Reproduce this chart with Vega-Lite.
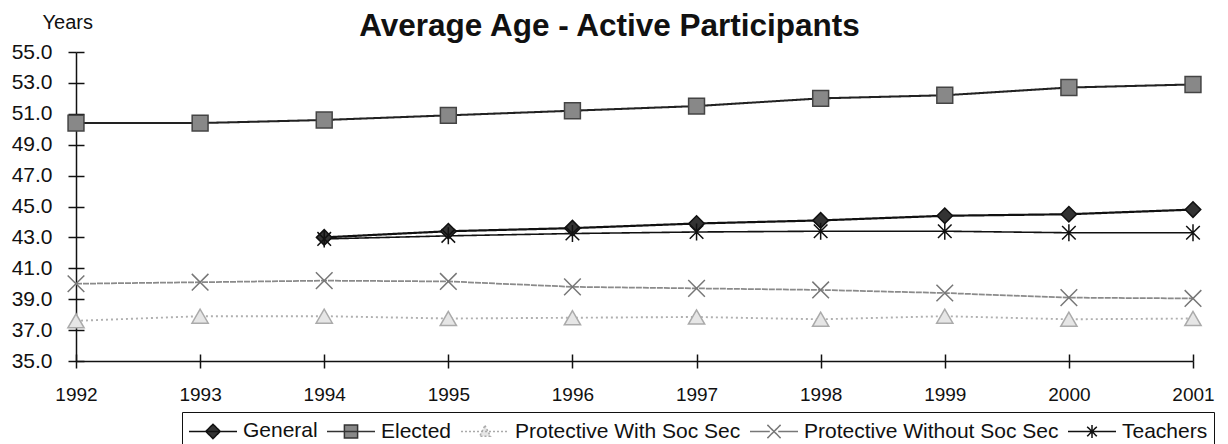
{
  "$schema": "https://vega.github.io/schema/vega-lite/v6.json",
  "width": 1117,
  "height": 309,
  "autosize": {"type": "none"},
  "padding": {"left": 76, "top": 52, "right": 35, "bottom": 83},
  "background": "white",
  "title": {
    "text": "Average Age - Active Participants",
    "font": "Liberation Sans",
    "fontSize": 31.5,
    "fontWeight": "bold",
    "color": "#111",
    "anchor": "middle",
    "dx": -25,
    "offset": -30
  },
  "config": {
    "view": {"stroke": null},
    "font": "Liberation Sans",
    "axis": {"grid": false}
  },
  "data": {
    "values": [
      {"year": "1992", "series": "Elected", "value": 50.4},
      {"year": "1993", "series": "Elected", "value": 50.4},
      {"year": "1994", "series": "Elected", "value": 50.6},
      {"year": "1995", "series": "Elected", "value": 50.9},
      {"year": "1996", "series": "Elected", "value": 51.2},
      {"year": "1997", "series": "Elected", "value": 51.5},
      {"year": "1998", "series": "Elected", "value": 52.0},
      {"year": "1999", "series": "Elected", "value": 52.2},
      {"year": "2000", "series": "Elected", "value": 52.7},
      {"year": "2001", "series": "Elected", "value": 52.9},
      {"year": "1994", "series": "General", "value": 43.0},
      {"year": "1995", "series": "General", "value": 43.4},
      {"year": "1996", "series": "General", "value": 43.6},
      {"year": "1997", "series": "General", "value": 43.9},
      {"year": "1998", "series": "General", "value": 44.1},
      {"year": "1999", "series": "General", "value": 44.4},
      {"year": "2000", "series": "General", "value": 44.5},
      {"year": "2001", "series": "General", "value": 44.8},
      {"year": "1994", "series": "Teachers", "value": 42.9},
      {"year": "1995", "series": "Teachers", "value": 43.1},
      {"year": "1996", "series": "Teachers", "value": 43.25},
      {"year": "1997", "series": "Teachers", "value": 43.35},
      {"year": "1998", "series": "Teachers", "value": 43.4},
      {"year": "1999", "series": "Teachers", "value": 43.4},
      {"year": "2000", "series": "Teachers", "value": 43.3},
      {"year": "2001", "series": "Teachers", "value": 43.3},
      {"year": "1992", "series": "Protective Without Soc Sec", "value": 40.0},
      {"year": "1993", "series": "Protective Without Soc Sec", "value": 40.1},
      {"year": "1994", "series": "Protective Without Soc Sec", "value": 40.2},
      {"year": "1995", "series": "Protective Without Soc Sec", "value": 40.15},
      {"year": "1996", "series": "Protective Without Soc Sec", "value": 39.8},
      {"year": "1997", "series": "Protective Without Soc Sec", "value": 39.7},
      {"year": "1998", "series": "Protective Without Soc Sec", "value": 39.6},
      {"year": "1999", "series": "Protective Without Soc Sec", "value": 39.4},
      {"year": "2000", "series": "Protective Without Soc Sec", "value": 39.1},
      {"year": "2001", "series": "Protective Without Soc Sec", "value": 39.05},
      {"year": "1992", "series": "Protective With Soc Sec", "value": 37.6},
      {"year": "1993", "series": "Protective With Soc Sec", "value": 37.9},
      {"year": "1994", "series": "Protective With Soc Sec", "value": 37.9},
      {"year": "1995", "series": "Protective With Soc Sec", "value": 37.75},
      {"year": "1996", "series": "Protective With Soc Sec", "value": 37.8},
      {"year": "1997", "series": "Protective With Soc Sec", "value": 37.85},
      {"year": "1998", "series": "Protective With Soc Sec", "value": 37.7},
      {"year": "1999", "series": "Protective With Soc Sec", "value": 37.9},
      {"year": "2000", "series": "Protective With Soc Sec", "value": 37.7},
      {"year": "2001", "series": "Protective With Soc Sec", "value": 37.75}
    ]
  },
  "layer": [
    {
      "mark": {"type": "line"},
      "encoding": {
        "x": {
          "field": "year", "type": "ordinal",
          "scale": {"type": "point", "padding": 0},
          "axis": {
            "orient": "bottom", "title": null, "labelAngle": 0,
            "labelFontSize": 19, "labelColor": "#111", "labelPadding": 17,
            "tickSize": 7, "tickColor": "#111", "tickWidth": 1.5,
            "domainColor": "#111", "domainWidth": 1.5
          }
        },
        "y": {
          "field": "value", "type": "quantitative",
          "scale": {"domain": [35, 55], "nice": false, "zero": false},
          "axis": {
            "orient": "left",
            "values": [35, 37, 39, 41, 43, 45, 47, 49, 51, 53, 55],
            "format": ".1f",
            "labelFontSize": 21, "labelColor": "#111", "labelPadding": 16,
            "tickSize": 8, "tickColor": "#111", "tickWidth": 1.5,
            "domainColor": "#111", "domainWidth": 1.5,
            "title": "Years", "titleAngle": 0, "titleAlign": "left",
            "titleBaseline": "alphabetic", "titleX": -34, "titleY": -24,
            "titleFontSize": 20, "titleFontWeight": "normal", "titleColor": "#111"
          }
        },
        "detail": {"field": "series"},
        "stroke": {
          "field": "series", "type": "nominal", "legend": null,
          "scale": {
            "domain": ["General", "Elected", "Protective With Soc Sec", "Protective Without Soc Sec", "Teachers"],
            "range": ["#111111", "#222222", "#b0b0b0", "#8a8a8a", "#111111"]
          }
        },
        "strokeDash": {
          "field": "series", "type": "nominal", "legend": null,
          "scale": {
            "domain": ["General", "Elected", "Protective With Soc Sec", "Protective Without Soc Sec", "Teachers"],
            "range": [[1, 0], [1, 0], [2, 3], [6, 1], [1, 0]]
          }
        },
        "strokeWidth": {
          "field": "series", "type": "nominal", "legend": null,
          "scale": {
            "domain": ["General", "Elected", "Protective With Soc Sec", "Protective Without Soc Sec", "Teachers"],
            "range": [2.2, 1.6, 1.6, 1.4, 2]
          }
        }
      }
    },
    {
      "mark": {"type": "point", "filled": true, "opacity": 1, "strokeWidth": 1.5},
      "encoding": {
        "x": {"field": "year", "type": "ordinal", "axis": null},
        "y": {"field": "value", "type": "quantitative", "axis": null},
        "shape": {
          "field": "series", "type": "nominal", "legend": null,
          "scale": {
            "domain": ["General", "Elected", "Protective With Soc Sec", "Protective Without Soc Sec", "Teachers"],
            "range": ["diamond", "square", "triangle-up", "M-1,-1L1,1M1,-1L-1,1", "M-0.8,-0.8L0.8,0.8M0.8,-0.8L-0.8,0.8M0,-1L0,1"]
          }
        },
        "size": {
          "field": "series", "type": "nominal", "legend": null,
          "scale": {
            "domain": ["General", "Elected", "Protective With Soc Sec", "Protective Without Soc Sec", "Teachers"],
            "range": [240, 289, 60, 240, 160]
          }
        },
        "fill": {
          "field": "series", "type": "nominal", "legend": null,
          "scale": {
            "domain": ["General", "Elected", "Protective With Soc Sec", "Protective Without Soc Sec", "Teachers"],
            "range": ["#333333", "#888888", "#e6e6e6", "#777777", "#111111"]
          }
        },
        "stroke": {
          "field": "series", "type": "nominal", "legend": null,
          "scale": {
            "domain": ["General", "Elected", "Protective With Soc Sec", "Protective Without Soc Sec", "Teachers"],
            "range": ["#111111", "#444444", "#aaaaaa", "#777777", "#111111"]
          }
        }
      }
    },
    {
      "transform": [{"filter": "datum.value > 1000"}],
      "mark": {"type": "point", "filled": true, "opacity": 1, "strokeWidth": 1.5},
      "encoding": {
        "x": {
          "field": "year", "type": "ordinal",
          "axis": {
            "orient": "bottom", "title": null, "labels": false, "domain": false,
            "tickSize": -7, "tickColor": "#111", "tickWidth": 1.5
          }
        },
        "y": {
          "field": "value", "type": "quantitative",
          "axis": {
            "orient": "left", "title": null, "labels": false, "domain": false,
            "values": [35, 37, 39, 41, 43, 45, 47, 49, 51, 53, 55],
            "tickSize": -8, "tickColor": "#111", "tickWidth": 1.5
          }
        },
        "shape": {
          "field": "series", "type": "nominal",
          "scale": {
            "domain": ["General", "Elected", "Protective With Soc Sec", "Protective Without Soc Sec", "Teachers"],
            "range": [
              "M-2,0L2,0M0,-0.6L0.6,0L0,0.6L-0.6,0Z",
              "M-2,0L2,0M-0.55,-0.55L0.55,-0.55L0.55,0.55L-0.55,0.55Z",
              "M-2,0L2,0M0,-0.5L0.45,0.4L-0.45,0.4Z",
              "M-2,0L-0.35,0M0.35,0L2,0M-0.55,-0.55L0.55,0.55M0.55,-0.55L-0.55,0.55",
              "M-2,0L2,0M-0.4,-0.4L0.4,0.4M0.4,-0.4L-0.4,0.4M0,-0.55L0,0.55"
            ]
          },
          "legend": {
            "title": null, "orient": "none", "legendX": 106, "legendY": 360,
            "direction": "horizontal", "strokeColor": "#111", "padding": 6,
            "labelFontSize": 21, "labelFont": "Liberation Sans", "labelColor": "#111",
            "labelLimit": 500, "labelOffset": 17, "symbolOffset": 12,
            "columnPadding": 6, "symbolSize": 576, "symbolStrokeWidth": 1.5
          }
        },
        "fill": {
          "field": "series", "type": "nominal",
          "scale": {
            "domain": ["General", "Elected", "Protective With Soc Sec", "Protective Without Soc Sec", "Teachers"],
            "range": ["#333333", "#888888", "#e6e6e6", "#777777", "#111111"]
          },
          "legend": {
            "title": null, "orient": "none", "legendX": 106, "legendY": 360,
            "direction": "horizontal", "strokeColor": "#111", "padding": 6,
            "labelFontSize": 21, "labelFont": "Liberation Sans", "labelColor": "#111",
            "labelLimit": 500, "labelOffset": 17, "symbolOffset": 12,
            "columnPadding": 6, "symbolSize": 576, "symbolStrokeWidth": 1.5
          }
        },
        "stroke": {
          "field": "series", "type": "nominal",
          "scale": {
            "domain": ["General", "Elected", "Protective With Soc Sec", "Protective Without Soc Sec", "Teachers"],
            "range": ["#111111", "#333333", "#aaaaaa", "#777777", "#111111"]
          },
          "legend": {
            "title": null, "orient": "none", "legendX": 106, "legendY": 360,
            "direction": "horizontal", "strokeColor": "#111", "padding": 6,
            "labelFontSize": 21, "labelFont": "Liberation Sans", "labelColor": "#111",
            "labelLimit": 500, "labelOffset": 17, "symbolOffset": 12,
            "columnPadding": 6, "symbolSize": 576, "symbolStrokeWidth": 1.5
          }
        },
        "strokeDash": {
          "field": "series", "type": "nominal",
          "scale": {
            "domain": ["General", "Elected", "Protective With Soc Sec", "Protective Without Soc Sec", "Teachers"],
            "range": [[1, 0], [1, 0], [2, 2], [1, 0], [1, 0]]
          },
          "legend": {
            "title": null, "orient": "none", "legendX": 106, "legendY": 360,
            "direction": "horizontal", "strokeColor": "#111", "padding": 6,
            "labelFontSize": 21, "labelFont": "Liberation Sans", "labelColor": "#111",
            "labelLimit": 500, "labelOffset": 17, "symbolOffset": 12,
            "columnPadding": 6, "symbolSize": 576, "symbolStrokeWidth": 1.5
          }
        }
      }
    }
  ],
  "resolve": {
    "scale": {
      "shape": "independent", "fill": "independent", "stroke": "independent",
      "strokeDash": "independent", "strokeWidth": "independent", "size": "independent"
    },
    "axis": {"x": "independent", "y": "independent"},
    "legend": {"shape": "independent", "fill": "independent", "stroke": "independent", "strokeDash": "independent"}
  }
}
